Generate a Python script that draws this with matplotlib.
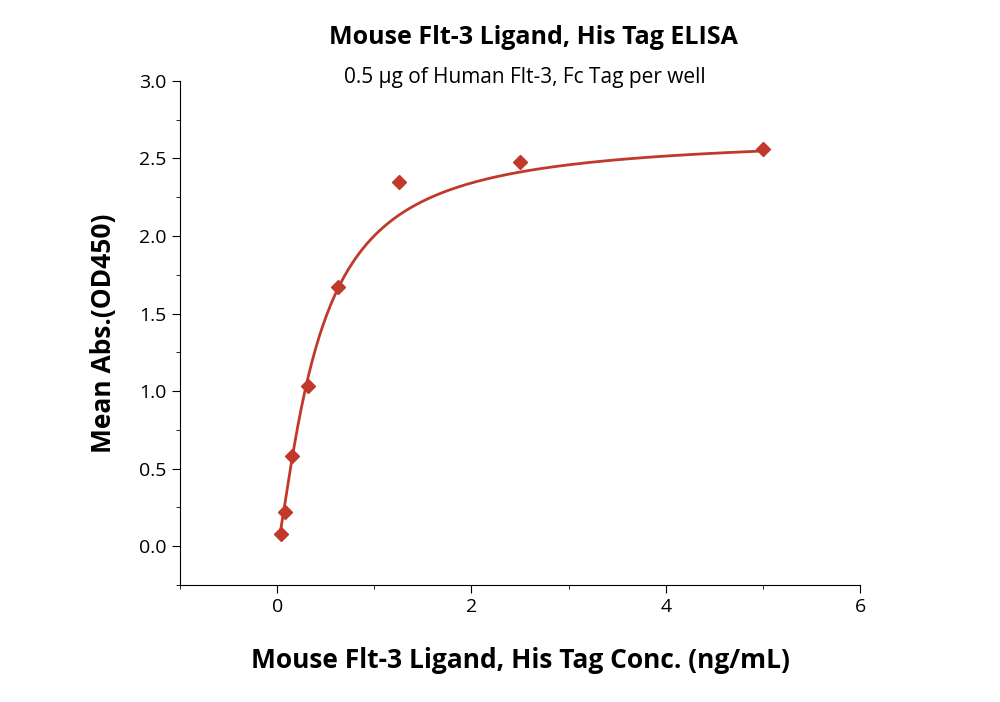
import numpy as np
import matplotlib.pyplot as plt
from matplotlib.ticker import MultipleLocator

# measured points
conc = [0.039, 0.078, 0.156, 0.3125, 0.625, 1.25, 2.5, 5.0]
absorb = [0.08, 0.22, 0.58, 1.03, 1.67, 2.35, 2.48, 2.56]

# 4-parameter logistic fit (estimated)
bottom, top, ec50, hill = 0.0, 2.65, 0.42, 1.3

plt.rcParams['font.family'] = 'Open Sans'
fig = plt.figure(figsize=(10, 7.02), dpi=100)
ax = fig.add_axes([0.18, 0.1667, 0.68, 0.718])

xfit = np.linspace(0.039, 5.0, 400)
yfit = bottom + (top - bottom) / (1 + (ec50 / xfit) ** hill)
ax.plot(xfit, yfit, color='#c0392b', lw=2)
ax.plot(conc, absorb, 'D', color='#c0392b', ms=7, mec='#c0392b')

ax.set_xlim(-1, 6)
ax.set_ylim(-0.25, 3.0)
ax.xaxis.set_major_locator(MultipleLocator(2))
ax.xaxis.set_minor_locator(MultipleLocator(1))
ax.yaxis.set_minor_locator(MultipleLocator(0.25))
ax.set_yticks(np.arange(0, 3.01, 0.5))
ax.set_yticklabels(['%.1f' % v for v in np.arange(0, 3.01, 0.5)])
for s in ['top', 'right']:
    ax.spines[s].set_visible(False)
ax.tick_params(direction='out', length=6, labelsize=14)
ax.tick_params(which='minor', direction='out', length=3)

ax.set_xlabel('Mouse Flt-3 Ligand, His Tag Conc. (ng/mL)', fontsize=19, fontweight='bold', labelpad=22)
ax.set_ylabel('Mean Abs.(OD450)', fontsize=19, fontweight='bold', labelpad=16)
fig.text(0.533, 0.947, 'Mouse Flt-3 Ligand, His Tag ELISA', ha='center', va='center', fontsize=18, fontweight='bold')
fig.text(0.525, 0.889, '0.5 μg of Human Flt-3, Fc Tag per well', ha='center', va='center', fontsize=15)

plt.savefig('out.png', dpi=100)
